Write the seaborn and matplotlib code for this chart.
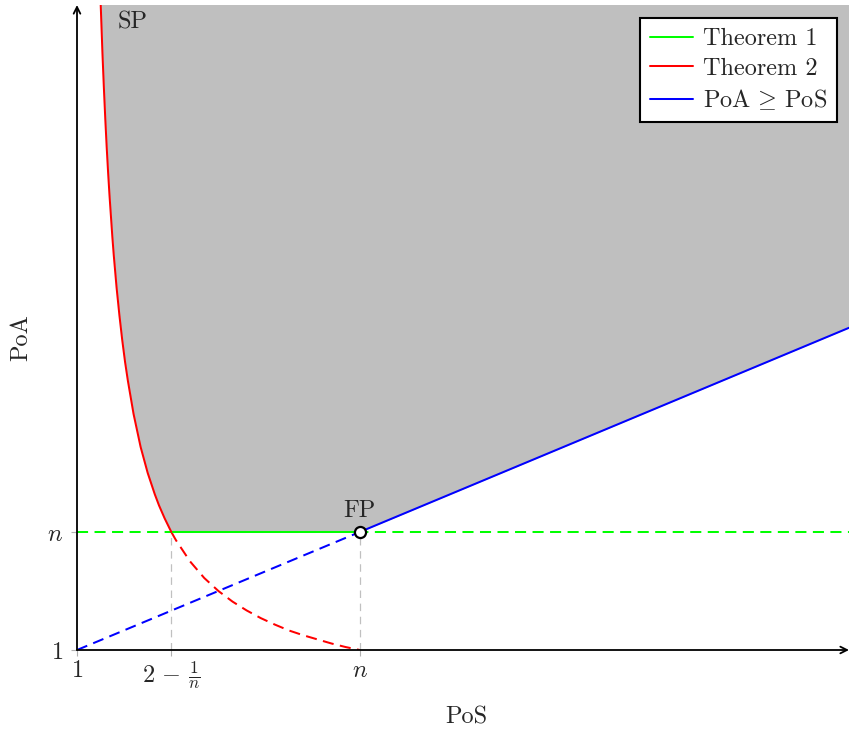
import numpy as np
import pandas as pd
import matplotlib
matplotlib.use("Agg")
import matplotlib.pyplot as plt
import seaborn as sns
from matplotlib.lines import Line2D

# valores (n = 3)
n_val = 3.0
x_low = 2 - 1 / n_val
x_max = 6.46
y_max = 11.93

# curva del Teorema 2 (puntos leidos)
red_x = [1.16, 1.167, 1.18, 1.19, 1.2, 1.21, 1.22, 1.23, 1.25, 1.26, 1.28, 1.3, 1.32,
         1.34, 1.36, 1.4, 1.45, 1.5, 1.55, 1.58, 1.62, 1.667]
red_y = [12.5, 11.98, 11.11, 10.53, 10.0, 9.52, 9.09, 8.70, 8.0, 7.69, 7.14, 6.67, 6.25,
         5.88, 5.56, 5.0, 4.44, 4.0, 3.64, 3.45, 3.23, 3.0]
red_dash_x = [1.667, 1.7, 1.8, 1.9, 2.0, 2.1, 2.2, 2.3, 2.4, 2.5, 2.6, 2.7, 2.8, 2.9, 3.0]
red_dash_y = [3.0, 2.86, 2.5, 2.22, 2.0, 1.82, 1.67, 1.54, 1.43, 1.33, 1.25, 1.18, 1.11, 1.05, 1.0]

# Teorema 1 (PoA = n) y PoA >= PoS
green_x = [x_low, n_val]
green_y = [n_val, n_val]
green_dash_x = [1.0, x_max]
green_dash_y = [n_val, n_val]
blue_x = [n_val, x_max]
blue_y = [n_val, x_max]
blue_dash_x = [1.0, n_val]
blue_dash_y = [1.0, n_val]

xticks = [1.0, x_low, n_val]
xticklabels = ["$1$", r"$2\,-\,\frac{1}{n}$", "$n$"]
yticks = [1.0, n_val]
yticklabels = ["$1$", "$n$"]

sns.set_theme(style="white")
plt.rcParams["font.family"] = "serif"
plt.rcParams["font.serif"] = ["cmr10", "DejaVu Serif"]
plt.rcParams["mathtext.fontset"] = "cm"
plt.rcParams["axes.formatter.use_mathtext"] = True

FS = 17.5

fig = plt.figure(figsize=(8.49, 7.34), dpi=100)
ax = fig.add_axes([77 / 849, 84 / 734, 772 / 849, 645 / 734])

GREEN, RED, BLUE = "#00ff00", "#ff0000", "#0000ff"
lw = 1.45
dash = (5.5, 3.2)

# region gris SP
fill_x = red_x + [n_val, x_max]
fill_y = red_y + [n_val, x_max]
ax.fill_between(fill_x, fill_y, y_max + 1, color="#bfbfbf", lw=0, zorder=0)

def draw(xs, ys, color, dashed, width=lw, dz=dash, z=3):
    df = pd.DataFrame({"x": xs, "y": ys})
    line = sns.lineplot(data=df, x="x", y="y", ax=ax, color=color, lw=width,
                        sort=False, estimator=None, zorder=z)
    if dashed:
        line.lines[-1].set_dashes(dz)

# guias verticales
for xv in [x_low, n_val]:
    draw([xv, xv], [1.0, n_val], "#c0c0c0", True, width=0.9, dz=(6, 4.5), z=1)

draw(green_dash_x, green_dash_y, GREEN, True)
draw(blue_dash_x, blue_dash_y, BLUE, True)
draw(red_dash_x, red_dash_y, RED, True)
draw(green_x, green_y, GREEN, False)
draw(red_x, red_y, RED, False)
draw(blue_x, blue_y, BLUE, False)

ax.plot([n_val], [n_val], "o", ms=8, mfc="white", mec="black", mew=1.6, zorder=5)
ax.annotate("FP", (n_val, n_val), xytext=(0, 7), textcoords="offset points",
            ha="center", va="bottom", fontsize=FS)
ax.text(1.29, 11.64, "SP", fontsize=FS, ha="left", va="center")

ax.set_xlim(1.0, x_max)
ax.set_ylim(1.0, y_max)
ax.set_xticks(xticks)
ax.set_xticklabels(xticklabels, fontsize=FS)
ax.set_yticks(yticks)
ax.set_yticklabels(yticklabels, fontsize=FS)
ax.tick_params(axis="both", length=4, width=0.8, color="#b0b0b0",
               bottom=True, left=True)
ax.tick_params(axis="x", pad=3)
ax.tick_params(axis="y", pad=6)
for s in ax.spines.values():
    s.set_visible(False)

# ejes con flecha
ax.annotate("", xy=(1, 0), xytext=(0, 0), xycoords="axes fraction",
            arrowprops=dict(arrowstyle="->", lw=1.3, color="black",
                            shrinkA=0, shrinkB=0), annotation_clip=False)
ax.annotate("", xy=(0, 1), xytext=(0, 0), xycoords="axes fraction",
            arrowprops=dict(arrowstyle="->", lw=1.3, color="black",
                            shrinkA=0, shrinkB=0), annotation_clip=False)

ax.set_xlabel("PoS", fontsize=FS)
ax.set_ylabel("PoA", fontsize=FS)
ax.xaxis.set_label_coords(0.504, -0.088)
ax.yaxis.set_label_coords(-0.058, 0.484)

handles = [Line2D([], [], color=GREEN, lw=lw), Line2D([], [], color=RED, lw=lw),
           Line2D([], [], color=BLUE, lw=lw)]
leg = ax.legend(handles, ["Theorem 1", "Theorem 2", r"PoA$\,\geq\,$PoS"],
                loc="upper right", bbox_to_anchor=(0.9845, 0.9795), fontsize=FS,
                frameon=True, fancybox=False, framealpha=1, edgecolor="black",
                borderpad=0.4, labelspacing=0.32, handlelength=1.8,
                handletextpad=0.4, borderaxespad=0)
leg.get_frame().set_linewidth(1.5)

fig.savefig("out.png", dpi=100)
